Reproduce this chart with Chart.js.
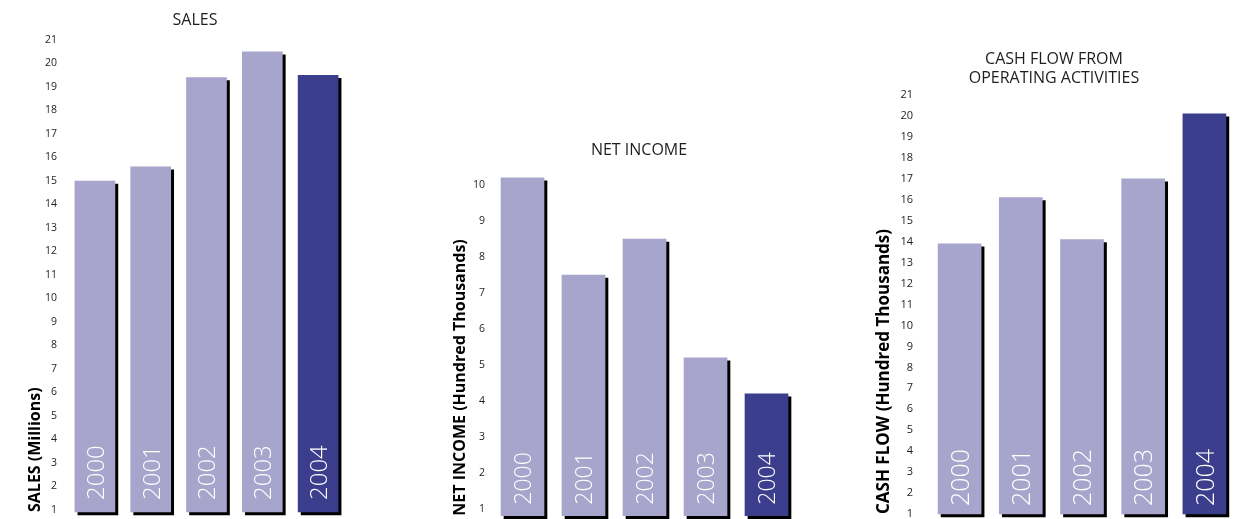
<!DOCTYPE html>
<html>
<head>
<meta charset="utf-8">
<script src="https://cdn.jsdelivr.net/npm/chart.js@4.4.1/dist/chart.umd.min.js"></script>
<style>
  html, body { margin: 0; padding: 0; background: #fff; overflow: hidden; }
  #wrap { position: relative; width: 1251px; height: 519px; overflow: hidden; }
  canvas { position: absolute; }
</style>
</head>
<body>
<div id="wrap">
  <canvas id="salesChart" width="390" height="519" style="left:0;top:0"></canvas>
  <canvas id="incomeChart" width="438" height="393" style="left:420px;top:130px"></canvas>
  <canvas id="cashChart" width="388" height="522" style="left:860px;top:0"></canvas>
</div>
<script>
// ----------------- Data -----------------
const years = ['2000', '2001', '2002', '2003', '2004'];

const salesValues = [15.0, 15.6, 19.4, 20.5, 19.5];
const salesTicks = [1, 2, 3, 4, 5, 6, 7, 8, 9, 10, 11, 12, 13, 14, 15, 16, 17, 18, 19, 20, 21];

const incomeValues = [10.2, 7.5, 8.5, 5.2, 4.2];
const incomeTicks = [1, 2, 3, 4, 5, 6, 7, 8, 9, 10];

const cashValues = [13.9, 16.1, 14.1, 17.0, 20.1];
const cashTicks = [1, 2, 3, 4, 5, 6, 7, 8, 9, 10, 11, 12, 13, 14, 15, 16, 17, 18, 19, 20, 21];

// ----------------- Styling -----------------
const LIGHT = '#a7a5cb';
const DARK = '#3b3d8d';
const TEXT = '#1e1e1e';
const FONT = "'Open Sans', 'Noto Sans', sans-serif";

// black drop shadow under every bar
const barShadow = {
  id: 'barShadow',
  beforeDatasetsDraw(chart) {
    const ctx = chart.ctx;
    ctx.save();
    ctx.shadowColor = '#000';
    ctx.shadowBlur = 0;
    ctx.shadowOffsetX = 3;
    ctx.shadowOffsetY = 3;
  },
  afterDatasetsDraw(chart) {
    chart.ctx.restore();
  }
};

// white year written upwards inside each bar
const yearLabels = {
  id: 'yearLabels',
  afterDatasetsDraw(chart, args, opts) {
    const ctx = chart.ctx;
    const meta = chart.getDatasetMeta(0);
    meta.data.forEach((bar, i) => {
      ctx.save();
      ctx.translate(bar.x + opts.dx, bar.base - opts.gap);
      ctx.rotate(-Math.PI / 2);
      ctx.fillStyle = '#fff';
      ctx.font = '300 ' + opts.size + 'px ' + FONT;
      ctx.textAlign = 'left';
      ctx.textBaseline = 'middle';
      ctx.fillText(chart.data.labels[i], 0, 0);
      ctx.restore();
    });
  }
};

function makeChart(id, cfg) {
  return new Chart(document.getElementById(id), {
    type: 'bar',
    data: {
      labels: years,
      datasets: [{
        data: cfg.values,
        base: cfg.min,
        backgroundColor: years.map((y, i) => i === years.length - 1 ? DARK : LIGHT),
        barThickness: cfg.barWidth,
        borderWidth: 0,
        clip: false
      }]
    },
    options: {
      responsive: false,
      animation: false,
      events: [],
      layout: { padding: { left: 0, right: 0, top: 0, bottom: cfg.bottomPad } },
      plugins: {
        legend: { display: false },
        tooltip: { enabled: false },
        title: {
          display: true,
          text: cfg.title,
          color: TEXT,
          font: { family: FONT, size: 16, weight: 'normal', lineHeight: 1.15 },
          padding: cfg.titlePadding
        },
        yearLabels: cfg.yearLabels
      },
      scales: {
        x: { display: false },
        y: {
          min: cfg.min,
          max: cfg.max,
          afterBuildTicks: (scale) => {
            scale.ticks = cfg.ticks.map(v => ({ value: v }));
          },
          afterFit: (scale) => { scale.width = cfg.axisWidth; },
          grid: { display: false, drawTicks: true, tickLength: cfg.tickGap },
          border: { display: false },
          ticks: {
            color: TEXT,
            font: { family: FONT, size: cfg.tickSize },
            padding: 0
          },
          title: {
            display: true,
            text: cfg.axisTitle,
            align: 'start',
            color: '#000',
            font: { family: FONT, size: cfg.axisTitleSize, weight: 'bold', lineHeight: 1.2 },
            padding: { top: cfg.axisTitlePad, bottom: 0 }
          }
        },
        // empty spacer on the right so the chart title sits over the plot
        spacer: {
          position: 'right',
          display: true,
          grid: { display: false, drawTicks: false },
          border: { display: false },
          ticks: { display: false },
          afterFit: (scale) => { scale.width = cfg.rightGap; }
        }
      }
    },
    plugins: [barShadow, yearLabels]
  });
}

makeChart('salesChart', {
  values: salesValues,
  ticks: salesTicks,
  title: 'SALES',
  axisTitle: 'SALES (Millions)',
  axisTitleSize: 16,
  min: 0.915, max: 21,
  barWidth: 40,
  axisWidth: 67,
  rightGap: 44,
  axisTitlePad: 25.4,
  tickGap: 10,
  tickSize: 10.5,
  bottomPad: 7,
  titlePadding: { top: 10.8, bottom: 10.8 },
  yearLabels: { gap: 12, size: 24, dx: 2 }
});

makeChart('incomeChart', {
  values: incomeValues,
  ticks: incomeTicks,
  title: 'NET INCOME',
  axisTitle: 'NET INCOME (Hundred Thousands)',
  axisTitleSize: 16,
  min: 0.814, max: 10.42,
  barWidth: 43,
  axisWidth: 72,
  rightGap: 61,
  axisTitlePad: 30.4,
  tickGap: 7,
  tickSize: 10.5,
  bottomPad: 7.3,
  titlePadding: { top: 10.8, bottom: 10.8 },
  yearLabels: { gap: 11, size: 23, dx: 2 }
});

makeChart('cashChart', {
  values: cashValues,
  ticks: cashTicks,
  title: ['CASH FLOW FROM', 'OPERATING ACTIVITIES'],
  axisTitle: 'CASH FLOW (Hundred Thousands)',
  axisTitleSize: 17,
  min: 1, max: 21.26,
  barWidth: 43,
  axisWidth: 69,
  rightGap: 13,
  axisTitlePad: 14.3,
  tickGap: 16,
  tickSize: 11,
  bottomPad: 8,
  titlePadding: { top: 50.6, bottom: 2.2 },
  yearLabels: { gap: 8, size: 25, dx: 2 }
});
</script>
</body>
</html>
